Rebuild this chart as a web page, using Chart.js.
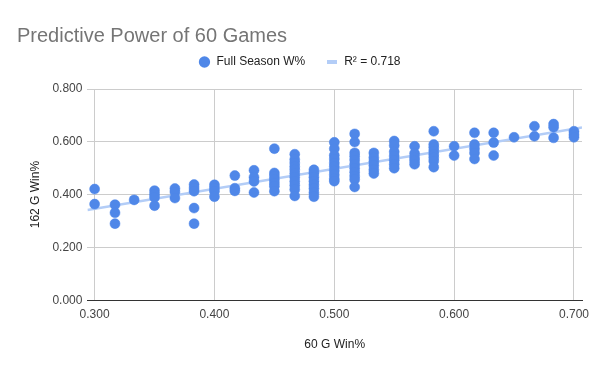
<!DOCTYPE html>
<html>
<head>
<meta charset="utf-8">
<script src="https://cdn.jsdelivr.net/npm/chart.js@4/dist/chart.umd.min.js"></script>
<style>
  html, body { margin: 0; padding: 0; background: #fff; }
  #wrap { width: 600px; height: 371px; }
</style>
</head>
<body>
<div id="wrap"><canvas id="chart" width="600" height="371"></canvas></div>
<script>
// 60-game win% (x) and full-season win% (y), one entry per team
const winPct60 = [
  0.300, 0.300,
  0.317, 0.317, 0.317,
  0.333,
  0.350, 0.350, 0.350, 0.350,
  0.367, 0.367, 0.367,
  0.383, 0.383, 0.383, 0.383, 0.383,
  0.400, 0.400, 0.400, 0.400,
  0.417, 0.417, 0.417,
  0.433, 0.433, 0.433, 0.433,
  0.450, 0.450, 0.450, 0.450, 0.450, 0.450, 0.450,
  0.467, 0.467, 0.467, 0.467, 0.467, 0.467, 0.467, 0.467, 0.467, 0.467, 0.467,
  0.483, 0.483, 0.483, 0.483, 0.483, 0.483, 0.483, 0.483,
  0.500, 0.500, 0.500, 0.500, 0.500, 0.500, 0.500, 0.500, 0.500, 0.500,
  0.517, 0.517, 0.517, 0.517, 0.517, 0.517, 0.517, 0.517, 0.517, 0.517, 0.517,
  0.533, 0.533, 0.533, 0.533, 0.533, 0.533,
  0.550, 0.550, 0.550, 0.550, 0.550, 0.550, 0.550,
  0.567, 0.567, 0.567, 0.567, 0.567,
  0.583, 0.583, 0.583, 0.583, 0.583, 0.583, 0.583, 0.583,
  0.600, 0.600,
  0.617, 0.617, 0.617, 0.617, 0.617,
  0.633, 0.633, 0.633,
  0.650,
  0.667, 0.667,
  0.683, 0.683, 0.683,
  0.700, 0.700, 0.700
];
const winPct162 = [
  0.421, 0.364,
  0.362, 0.331, 0.290,
  0.380,
  0.415, 0.401, 0.389, 0.358,
  0.423, 0.410, 0.387,
  0.438, 0.425, 0.413, 0.349, 0.290,
  0.437, 0.425, 0.413, 0.392,
  0.472, 0.424, 0.414,
  0.492, 0.466, 0.450, 0.408,
  0.574, 0.482, 0.470, 0.457, 0.444, 0.432, 0.413,
  0.553, 0.533, 0.520, 0.506, 0.494, 0.480, 0.466, 0.450, 0.435, 0.419, 0.395,
  0.494, 0.481, 0.466, 0.451, 0.437, 0.423, 0.407, 0.392,
  0.598, 0.574, 0.549, 0.535, 0.520, 0.506, 0.490, 0.475, 0.460, 0.451,
  0.630, 0.599, 0.558, 0.545, 0.531, 0.515, 0.500, 0.485, 0.470, 0.457, 0.429,
  0.558, 0.540, 0.525, 0.510, 0.494, 0.480,
  0.603, 0.586, 0.562, 0.546, 0.530, 0.515, 0.500,
  0.583, 0.556, 0.540, 0.528, 0.515,
  0.640, 0.590, 0.578, 0.565, 0.552, 0.540, 0.527, 0.504,
  0.583, 0.548,
  0.634, 0.590, 0.574, 0.558, 0.535,
  0.634, 0.597, 0.548,
  0.617,
  0.659, 0.621,
  0.667, 0.655, 0.615,
  0.640, 0.628, 0.617
];

const xTicks = [0.3, 0.4, 0.5, 0.6, 0.7];
const yTicks = [0, 0.2, 0.4, 0.6, 0.8];
const xRange = [0.294, 0.7067];
const rSquaredLabel = 'R\u00b2 = 0.718';

const FONT = '"Liberation Sans", Arial, sans-serif';
const BLUE = '#4f87e8';
const TREND = '#b3cdf7';

// least squares line through the points
const n = winPct60.length;
const mx = winPct60.reduce((a, b) => a + b, 0) / n;
const my = winPct162.reduce((a, b) => a + b, 0) / n;
let sxy = 0, sxx = 0;
for (let i = 0; i < n; i++) {
  sxy += (winPct60[i] - mx) * (winPct162[i] - my);
  sxx += (winPct60[i] - mx) ** 2;
}
const slope = sxy / sxx;
const icpt = my - slope * mx;

const points = winPct60.map((x, i) => ({ x: x, y: winPct162[i] }));
const trend = xRange.map(x => ({ x: x, y: icpt + slope * x }));

// little flat swatch for the trendline legend entry
const swatch = document.createElement('canvas');
swatch.width = 10; swatch.height = 4;
const sctx = swatch.getContext('2d');
sctx.fillStyle = TREND;
sctx.fillRect(0, 0, 10, 4);

// extra gap under the legend
const legendGap = {
  id: 'legendGap',
  beforeUpdate(chart) {
    const lg = chart.legend;
    if (!lg || lg._gapPatched) return;
    const fit = lg.fit;
    lg.fit = function () {
      fit.call(this);
      this.height += 11;
    };
    lg._gapPatched = true;
  }
};

new Chart(document.getElementById('chart'), {
  type: 'scatter',
  data: {
    datasets: [{
      label: 'Full Season W%',
      data: points,
      backgroundColor: BLUE,
      borderColor: BLUE,
      pointRadius: 5,
      pointBorderWidth: 0.5,
      order: 1
    }, {
      label: rSquaredLabel,
      type: 'line',
      data: trend,
      borderColor: TREND,
      borderWidth: 2.5,
      pointRadius: 0,
      fill: false,
      order: 2
    }]
  },
  plugins: [legendGap],
  options: {
    responsive: false,
    animation: false,
    layout: { padding: { left: 17, right: 18, top: 0, bottom: 15 } },
    plugins: {
      title: {
        display: true,
        text: 'Predictive Power of 60 Games',
        align: 'start',
        color: '#757575',
        font: { family: FONT, size: 20, weight: 'normal' },
        padding: { top: 24, bottom: -13 }
      },
      legend: {
        position: 'top',
        labels: {
          usePointStyle: true,
          boxHeight: 8,
          padding: 21,
          color: '#222',
          font: { family: FONT, size: 12 },
          generateLabels: (chart) => chart.data.datasets.map((ds, i) => ({
            text: ds.label,
            datasetIndex: i,
            fillStyle: i === 0 ? BLUE : TREND,
            strokeStyle: i === 0 ? BLUE : TREND,
            lineWidth: 0,
            pointStyle: i === 0 ? 'circle' : swatch,
            fontColor: '#222'
          }))
        }
      },
      tooltip: { enabled: false }
    },
    scales: {
      x: {
        type: 'linear',
        min: xRange[0],
        max: xRange[1],
        afterBuildTicks: (s) => { s.ticks = xTicks.map(v => ({ value: v })); },
        ticks: {
          color: '#444',
          font: { family: FONT, size: 12 },
          padding: 7,
          callback: (v) => v.toFixed(3)
        },
        grid: { color: '#cccccc', drawTicks: false },
        border: { display: true, color: '#333', width: 1 },
        title: {
          display: true,
          text: '60 G Win%',
          color: '#222',
          font: { family: FONT, size: 12 },
          padding: { top: 9, bottom: 4 }
        }
      },
      y: {
        min: 0,
        max: 0.8,
        afterBuildTicks: (s) => { s.ticks = yTicks.map(v => ({ value: v })); },
        ticks: {
          color: '#444',
          font: { family: FONT, size: 12 },
          padding: 5,
          callback: (v) => v.toFixed(3)
        },
        grid: {
          color: (c) => (c.tick && c.tick.value === 0) ? '#333' : '#cccccc',
          drawTicks: false
        },
        border: { display: false },
        title: {
          display: true,
          text: '162 G Win%',
          color: '#222',
          font: { family: FONT, size: 12 },
          padding: { top: 11, bottom: 5 }
        }
      }
    }
  }
});
</script>
</body>
</html>
